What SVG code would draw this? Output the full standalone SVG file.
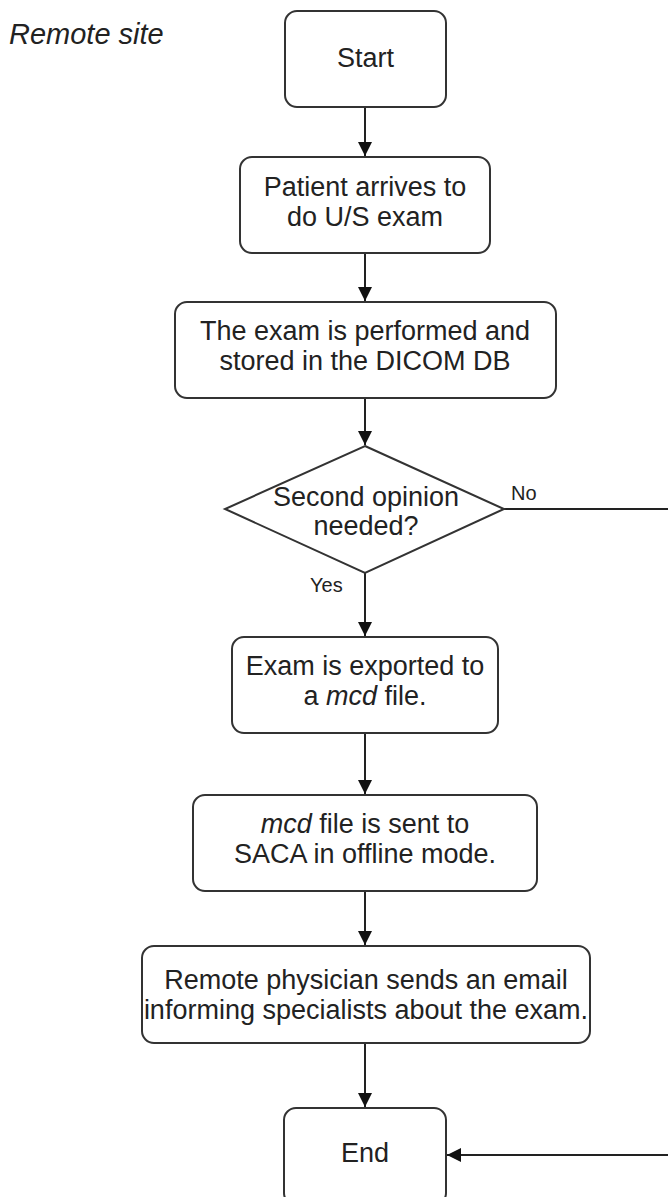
<svg xmlns="http://www.w3.org/2000/svg" width="668" height="1197" viewBox="0 0 668 1197">
<style>
.box{fill:#ffffff;stroke:#333;stroke-width:2}
.t{font-family:"Liberation Sans",Arial,sans-serif;font-size:27px;fill:#222;text-anchor:middle}
.lbl{font-family:"Liberation Sans",Arial,sans-serif;font-size:20px;fill:#222}
.con{fill:none;stroke:#222;stroke-width:2}
</style>
<defs>
<marker id="arr" markerUnits="userSpaceOnUse" markerWidth="14" markerHeight="14" refX="14" refY="7" orient="auto">
<path d="M0,0 L14,7 L0,14 z" fill="#111"/>
</marker>
</defs>
<rect width="668" height="1197" fill="#ffffff"/>
<text x="9" y="44" font-family="Liberation Sans,Arial,sans-serif" font-size="29" font-style="italic" fill="#222">Remote site</text>
<g id="connectors">
<path class="con" d="M365,107 V156" marker-end="url(#arr)"/>
<path class="con" d="M365,253 V301" marker-end="url(#arr)"/>
<path class="con" d="M365,398 V445" marker-end="url(#arr)"/>
<path class="con" d="M365,573 V636" marker-end="url(#arr)"/>
<path class="con" d="M365,733 V794" marker-end="url(#arr)"/>
<path class="con" d="M365,891 V945" marker-end="url(#arr)"/>
<path class="con" d="M365,1043 V1107" marker-end="url(#arr)"/>
<path class="con" d="M504,509 H690 V1155 H447" marker-end="url(#arr)"/>
<text class="lbl" x="511" y="500">No</text>
<text class="lbl" x="310" y="592">Yes</text>
</g>
<g id="start">
<rect class="box" x="285" y="11" width="161" height="96" rx="12"/>
<text class="t" x="365.5" y="67">Start</text>
</g>
<g id="patient">
<rect class="box" x="240" y="157" width="250" height="96" rx="12"/>
<text class="t" x="365" y="196">Patient arrives to</text>
<text class="t" x="365" y="226">do U/S exam</text>
</g>
<g id="perform">
<rect class="box" x="175" y="302" width="381" height="96" rx="12"/>
<text class="t" x="365" y="340">The exam is performed and</text>
<text class="t" x="365" y="370">stored in the DICOM DB</text>
</g>
<g id="decision">
<polygon class="box" points="365,446 504,509 365,573 225,509"/>
<text class="t" x="366" y="506">Second opinion</text>
<text class="t" x="366" y="535">needed?</text>
</g>
<g id="export">
<rect class="box" x="232" y="637" width="266" height="96" rx="12"/>
<text class="t" x="365" y="675">Exam is exported to</text>
<text class="t" x="365" y="705">a <tspan font-style="italic">mcd</tspan> file.</text>
</g>
<g id="send">
<rect class="box" x="193" y="795" width="344" height="96" rx="12"/>
<text class="t" x="365" y="833"><tspan font-style="italic">mcd</tspan> file is sent to</text>
<text class="t" x="365" y="863">SACA in offline mode.</text>
</g>
<g id="email">
<rect class="box" x="142" y="946" width="448" height="97" rx="12"/>
<text class="t" x="366" y="989">Remote physician sends an email</text>
<text class="t" x="366" y="1019">informing specialists about the exam.</text>
</g>
<g id="end">
<rect class="box" x="284" y="1108" width="162" height="97" rx="12"/>
<text class="t" x="365" y="1162">End</text>
</g>
</svg>
